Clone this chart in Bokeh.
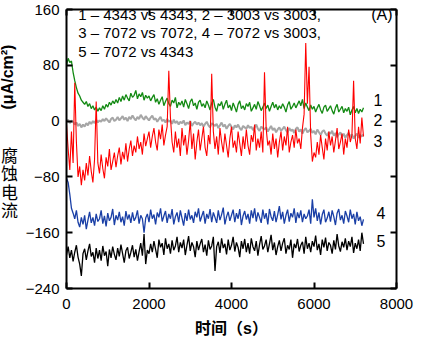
import math
from bokeh.plotting import figure
from bokeh.layouts import row
from bokeh.models import LinearAxis, FixedTicker, Label, ColumnDataSource
from bokeh.core.properties import value
from bokeh.embed import file_html
from bokeh.resources import INLINE

# sample times (s)
time_s = list(range(0, 7201, 40))

# 1 - 4343 vs 4343 (green)
curve1 = [80, 90, 84, 86, 70, 58, 48, 40, 36, 30,
          27, 24, 28, 21, 25, 18, 22, 16, 20, 14,
          19, 15, 22, 17, 24, 20, 27, 23, 29, 25,
          31, 26, 34, 28, 36, 30, 38, 33, 29, 40,
          34, 37, 44, 32, 39, 35, 41, 30, 37, 33,
          36, 29, 34, 38, 27, 32, 24, 30, 35, 22,
          28, 33, 25, 21, 30, 26, 34, 19, 27, 23,
          29, 20, 31, 25, 18, 28, 32, 22, 26, 17,
          27, 30, 21, 25, 19, 29, 23, 16, 26, 31,
          20, 14, 25, 22, 28, 17, 24, 30, 19, 23,
          15, 26, 20, 13, 24, 29, 18, 22, 16, 25,
          21, 27, 14, 19, 24, 17, 28, 22, 15, 20,
          26, 18, 23, 14, 21, 27, 19, 24, 16, 22,
          18, 25, 20, 13, 23, 28, 17, 21, 26, 19,
          24, 29, 22, 31, 18, 26, 20, 15, 23, 17,
          21, 13, 19, 24, 16, 11, 20, 23, 14, 18,
          22, 15, 10, 19, 24, 13, 17, 21, 12, 18,
          14, 20, 9, 16, 21, 12, 18, 11, 17, 13,
          19]

# 2 - 3003 vs 3003 (gray)
curve2 = [0, 2, -3, 1, -1, -5, -2, -7, -4, -9,
          -5, -8, -3, -6, -1, -4, 0, -3, 2, -2,
          1, -1, 3, 0, 4, 1, -2, 3, 5, 0,
          2, 6, 1, 4, 7, 2, 5, 0, 6, 3,
          8, 4, 1, 6, 3, 9, 5, 2, 7, 4,
          1, 5, 8, 2, 4, -1, 3, 6, 0, 2,
          -2, 3, -1, 1, -4, 2, -3, 0, -5, -1,
          -3, 1, -6, -2, -4, 0, -7, -3, -1, -5,
          -2, -6, -3, -8, -4, -1, -6, -9, -3, -5,
          -7, -4, -10, -6, -2, -8, -5, -11, -7, -4,
          -8, -12, -6, -9, -5, -10, -13, -7, -9, -11,
          -6, -10, -8, -13, -9, -5, -11, -14, -8, -10,
          -12, -9, -15, -11, -7, -13, -10, -16, -12, -9,
          -14, -11, -8, -13, -16, -10, -14, -12, -17, -11,
          -9, -15, -12, -18, -13, -10, -16, -14, -11, -17,
          -14, -19, -12, -16, -20, -15, -13, -18, -21, -16,
          -18, -14, -21, -17, -23, -19, -16, -22, -18, -24,
          -20, -17, -23, -19, -25, -21, -18, -24, -20, -22,
          -19]

# 3 - 7072 vs 7072 (red)
curve3 = [-5, -40, -70, -15, -60, 55, -30, -80, -65, -92,
          -70, -85, -60, -78, -50, -72, -88, -55, 28, -60,
          -75, -48, -68, -82, -52, -65, -40, -70, -58, -45,
          -66, -50, -38, -62, -44, -55, -32, -58, -40, -28,
          -50, -35, -45, -22, -40, -30, -48, -18, -36, -25,
          -15, -38, -22, -10, -30, -42, -12, -26, -5, -35,
          -20, -8, 72, 5, -30, -45, -15, -38, -25, -50,
          -10, -35, -20, -48, -28, 0, -40, -18, -55, -30,
          -12, -42, -25, -8, -38, -50, -20, -33, 68, -15,
          -40, -22, -48, -10, -30, -45, -18, -35, -52, -25,
          -8, -38, -28, -45, -15, -32, -50, -22, -40, -12,
          -35, -48, -20, -30, -5, -42, -25, -38, -15, -45,
          70, -10, -35, -28, -48, -18, -40, -25, -52, -30,
          -15, -42, -22, -35, -8, -45, -30, -20, -38, -12,
          -32, -25, -40, -10, 10, 112, 25, 78, -20, -58,
          -45, -52, -30, -48, -20, -38, -55, -25, -42, -15,
          -35, -22, -45, -28, -10, -40, -30, -18, -48, -25,
          -38, -12, -30, -20, 58, -25, -40, -8, -32, 5,
          -22]

# 4 - 7072 vs 3003 (blue)
curve4 = [-82, -88, -105, -125, -132, -140, -128, -145, -152, -138,
          -148, -135, -155, -142, -130, -146, -138, -150, -133, -144,
          -140, -128, -147, -136, -151, -132, -143, -138, -126, -149,
          -135, -142, -130, -145, -137, -150, -129, -141, -134, -146,
          -131, -143, -138, -128, -147, -135, -140, -160, -139, -133,
          -145, -127, -140, -134, -148, -131, -138, -125, -144, -136,
          -129, -146, -133, -140, -126, -148, -137, -131, -145, -128,
          -139, -150, -132, -143, -127, -141, -135, -146, -130, -138,
          -125, -144, -136, -129, -147, -133, -140, -126, -145, -131,
          -138, -146, -128, -142, -134, -124, -148, -137, -130, -143,
          -135, -127, -145, -132, -140, -126, -149, -136, -129, -141,
          -133, -147, -128, -139, -125, -144, -131, -138, -146, -127,
          -140, -132, -148, -126, -137, -143, -129, -145, -134, -122,
          -141, -130, -147, -135, -127, -144, -132, -138, -125, -146,
          -131, -139, -128, -145, -133, -140, -136, -127, -147, -112,
          -138, -125, -143, -131, -148, -134, -127, -145, -139, -130,
          -144, -128, -137, -149, -132, -126, -142, -135, -147, -129,
          -136, -145, -127, -140, -133, -148, -130, -143, -137, -150,
          -141]

# 5 - 7072 vs 4343 (black)
curve5 = [-192, -180, -196, -185, -201, -188, -178, -195, -205, -222,
          -190, -183, -199, -186, -176, -194, -188, -203, -182, -197,
          -185, -200, -179, -193, -187, -208, -184, -196, -180, -191,
          -199, -182, -194, -177, -190, -203, -186, -181, -197, -188,
          -178, -195, -184, -200, -187, -175, -193, -162, -205, -185,
          -190, -176, -188, -172, -184, -196, -170, -181, -175, -192,
          -168, -183, -176, -190, -171, -185, -179, -166, -188, -174,
          -182, -170, -192, -178, -165, -186, -174, -180, -195, -172,
          -185, -176, -169, -188, -177, -193, -171, -184, -179, -166,
          -215, -180, -173, -189, -168, -182, -176, -191, -170, -185,
          -178, -166, -187, -174, -181, -195, -172, -183, -169, -188,
          -175, -190, -168, -180, -186, -172, -193, -177, -165, -184,
          -179, -170, -188, -176, -163, -185, -174, -192, -180, -171,
          -186, -175, -168, -190, -178, -184, -170, -196, -176, -182,
          -169, -187, -178, -173, -190, -166, -183, -175, -188, -172,
          -180, -164, -185, -176, -192, -170, -181, -167, -186, -174,
          -178, -190, -171, -184, -162, -179, -187, -173, -181, -168,
          -185, -172, -180, -166, -189, -175, -183, -170, -186, -160,
          -176]

x_ticks = [0, 2000, 4000, 6000, 8000]
y_ticks = [-240, -160, -80, 0, 80, 160]
legend_lines = ["1 \u2013 4343 vs 4343,  2 \u2013 3003 vs 3003,",
                "3 \u2013 7072 vs 7072,  4 \u2013 7072 vs 3003,",
                "5 \u2013 7072 vs 4343"]
curve_names = ["1", "2", "3", "4", "5"]
y_unit = "(\u03bcA/cm\u00b2)"
y_title_chars = ["腐", "蚀", "电", "流"]
x_title = "时间（s）"

FONT = "Liberation Sans"
CJK = "Noto Sans CJK SC"
H = 339
TOP = 9
BOTTOM = 49

# narrow strip holding the vertical y-axis title; its y values are (347 - page pixel row)
side = figure(width=22, height=H, x_range=(0, 22), y_range=(BOTTOM, H - TOP),
              output_backend="svg", toolbar_location=None,
              x_axis_location=None, y_axis_location=None,
              min_border_left=0, min_border_right=0,
              min_border_top=TOP, min_border_bottom=BOTTOM)
side.grid.visible = False
side.outline_line_color = None
side.text(x=[7], y=[262], text=[y_unit], text_font=value(FONT), text_font_size="16px",
          text_font_style="bold", angle=math.pi / 2, text_align="center",
          text_baseline="middle", text_color="black")
side.text(x=[9] * 4, y=[184, 165.5, 147, 128.5], text=y_title_chars, text_font=value(CJK),
          text_font_size="17px", text_align="center", text_baseline="middle",
          text_color="black")

p = figure(width=392, height=H, x_range=(0, 8000), y_range=(-240, 160),
           output_backend="svg", toolbar_location=None,
           min_border_left=36, min_border_right=18,
           min_border_top=TOP, min_border_bottom=BOTTOM)
p.grid.visible = False
p.outline_line_color = None

xa = p.xaxis[0]
xa.ticker = FixedTicker(ticks=x_ticks)
ya = p.yaxis[0]
ya.ticker = FixedTicker(ticks=y_ticks)
for ax in (xa, ya):
    ax.axis_line_width = 2
    ax.major_tick_line_width = 2
    ax.major_tick_in = 6
    ax.major_tick_out = 0
    ax.minor_tick_line_color = None
    ax.major_label_text_font = FONT
    ax.major_label_text_font_size = "15px"
    ax.major_label_text_color = "black"
xa.major_label_standoff = 10
ya.major_label_standoff = 7
xa.axis_label = x_title
xa.axis_label_text_font = "Liberation Sans, Noto Sans CJK SC"
xa.axis_label_text_font_size = "16px"
xa.axis_label_text_font_style = "bold"
xa.axis_label_text_color = "black"
xa.axis_label_standoff = 8

top = LinearAxis(ticker=FixedTicker(ticks=x_ticks))
right = LinearAxis(ticker=FixedTicker(ticks=y_ticks))
for ax in (top, right):
    ax.axis_line_width = 2
    ax.major_tick_line_width = 2
    ax.major_tick_in = 6
    ax.major_tick_out = 0
    ax.minor_tick_line_color = None
    ax.major_label_text_font_size = "1px"
    ax.major_label_text_color = None
    ax.major_label_standoff = 0
p.add_layout(top, "above")
p.add_layout(right, "right")

src = ColumnDataSource(dict(t=time_s, c1=curve1, c2=curve2, c3=curve3, c4=curve4, c5=curve5))
p.line("t", "c5", source=src, line_color="black", line_width=1.3)
p.line("t", "c4", source=src, line_color="#1a3fa6", line_width=1.3)
p.line("t", "c2", source=src, line_color="#a6a6a6", line_width=2.0)
p.line("t", "c1", source=src, line_color="#138a13", line_width=1.3)
p.line("t", "c3", source=src, line_color="#ff0000", line_width=1.1)

# legend block
for txt, yy in zip(legend_lines, [153, 127, 100]):
    p.add_layout(Label(x=284, y=yy, text=txt, text_font=FONT, text_font_size="15px",
                       text_baseline="middle", text_align="left", text_color="black"))
p.add_layout(Label(x=7905, y=153, text="(A)", text_font=FONT, text_font_size="16px",
                   text_baseline="middle", text_align="right", text_color="black"))

# curve numbers
for name, xx, yy in zip(curve_names, [7550, 7550, 7550, 7621, 7621], [30, 2, -28, -132, -172]):
    p.add_layout(Label(x=xx, y=yy, text=name, text_font=FONT, text_font_size="16px",
                       text_baseline="middle", text_align="center", text_color="black"))

layout = row(side, p)
open("out.html", "w").write(file_html(layout, INLINE))
